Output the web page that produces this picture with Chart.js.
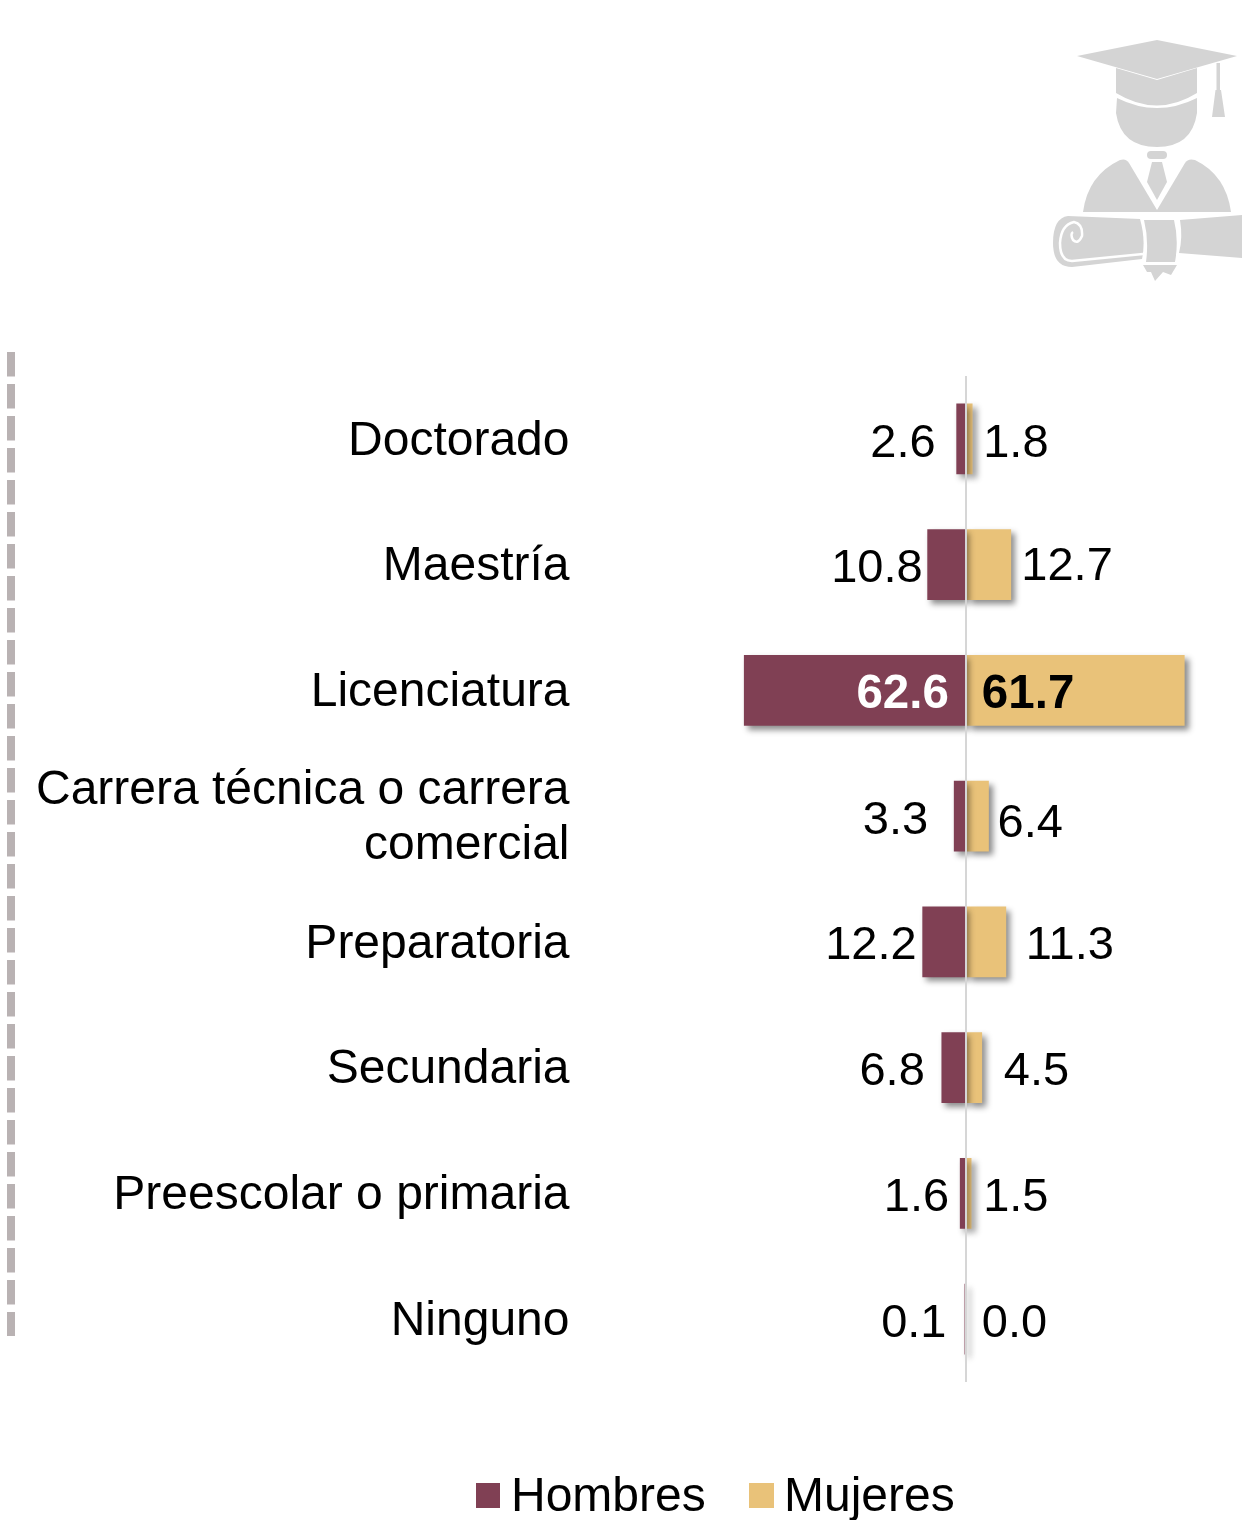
<!DOCTYPE html>
<html>
<head>
<meta charset="utf-8">
<script src="https://cdn.jsdelivr.net/npm/chart.js@4"></script>
<style>
html,body{margin:0;padding:0;background:#fff;width:1242px;height:1520px;overflow:hidden}
#wrap{position:relative;width:1242px;height:1520px}
canvas{position:absolute;left:0;top:0}
svg{position:absolute;left:0;top:0}
</style>
</head>
<body>
<div id="wrap">
<canvas id="c" width="1242" height="1520"></canvas>
<svg width="1242" height="1520" viewBox="0 0 1242 1520">
  <defs><filter id="soft"><feGaussianBlur stdDeviation="0.6"/></filter></defs>
  <line x1="11" y1="352" x2="11" y2="1336" stroke="#b9b2b3" stroke-width="8" stroke-dasharray="24.5 7.5"/>
  <g fill="#d4d4d4" filter="url(#soft)">
    <path d="M1077 56 L1157 40 L1237 56 L1157 79 Z"/>
    <path d="M1116 68 L1157 80 L1197 68 L1197 93 Q1157 118 1116 93 Z"/>
    <path d="M1117 98 Q1157 118 1197 98 L1197 113 Q1192 147 1157 147 Q1121 147 1116 113 Z"/>
    <path d="M1216.5 63 L1220 63 L1220 90 L1221 90 L1225 117 L1212 117 L1215.5 90 L1216.5 90 Z"/>
    <rect x="1147" y="151" width="20" height="8" rx="4"/>
    <path d="M1152 162 L1162 162 L1167 182 L1157 200 L1147 182 Z"/>
    <path d="M1083 212 Q1088 175 1120 160 Q1126 158 1129 163 L1157 210 L1157 212 Z"/>
    <path d="M1231 212 Q1226 175 1195 160 Q1188 158 1185 163 L1157 210 L1157 212 Z"/>
    <path d="M1068 216 L1140 219 Q1146 240 1142 259 L1072 267 Q1053 267 1053 243 Q1053 218 1068 216 Z"/>
    <path d="M1144 220 L1174 220 Q1179 240 1175 262 L1146 262 Q1149 240 1144 220 Z"/>
    <path d="M1180 220 L1242 215 L1242 258 L1179 253 Q1183 238 1180 220 Z"/>
    <path d="M1143 265 L1177 265 L1171 275 L1163 272 L1155 281 L1151 272 L1147 272 Z"/>
  </g>
  <path filter="url(#soft)" d="M1143 254 L1072 261 Q1060 261 1060 243 Q1061 225 1074 222 Q1083 224 1082 236 Q1078 245 1073 240 Q1070 234 1073 232" fill="none" stroke="#fff" stroke-width="2.5"/>
</svg>
</div>
<script>
const categories = [
  "Doctorado", "Maestría", "Licenciatura",
  ["Carrera técnica o carrera", "comercial"],
  "Preparatoria", "Secundaria", "Preescolar o primaria", "Ninguno"
];
const hombres = [2.6, 10.8, 62.6, 3.3, 12.2, 6.8, 1.6, 0.1];
const mujeres = [1.8, 12.7, 61.7, 6.4, 11.3, 4.5, 1.5, 0.0];
const seriesNames = ["Hombres", "Mujeres"];
const seriesColors = ["#804054", "#E9C279"];

// label placement tweaks (px)
const gapHombres = [21, 5, 17, 26, 6, 17, 11, 19];
const gapMujeres = [11, 10.5, 16, 9, 20, 22, 12, 16];
const riseHombres = [5, 4, 5, 4.5, 4, 4, 5, 5];
const riseMujeres = [5, 2, 5, 7.5, 4, 4, 5, 5];
const insideAbove = 50;

const FONT = '"Liberation Sans", Arial, sans-serif';

const shadowPlugin = {
  id: 'barShadow',
  beforeDatasetDraw(chart) {
    const c = chart.ctx;
    c.save();
    c.shadowColor = 'rgba(0,0,0,0.45)';
    c.shadowBlur = 6;
    c.shadowOffsetX = 4;
    c.shadowOffsetY = 4;
  },
  afterDatasetDraw(chart) { chart.ctx.restore(); }
};

const labelPlugin = {
  id: 'valueLabels',
  afterDatasetsDraw(chart) {
    const c = chart.ctx;
    const x = chart.scales.x, y = chart.scales.y;
    c.save();
    c.textBaseline = 'middle';
    categories.forEach((_, i) => {
      const yc = y.getPixelForValue(i);
      const zero = x.getPixelForValue(0);
      const h = hombres[i], m = mujeres[i];
      if (h > insideAbove) {
        c.font = 'bold 47.5px ' + FONT;
        c.fillStyle = '#fff'; c.textAlign = 'right';
        c.fillText(h.toFixed(1), zero - gapHombres[i], yc + riseHombres[i]);
        c.fillStyle = '#000'; c.textAlign = 'left';
        c.fillText(m.toFixed(1), zero + gapMujeres[i], yc + riseMujeres[i]);
      } else {
        c.font = '47px ' + FONT;
        c.fillStyle = '#000'; c.textAlign = 'right';
        c.fillText(h.toFixed(1), x.getPixelForValue(-h) - gapHombres[i], yc + riseHombres[i]);
        c.textAlign = 'left';
        c.fillText(m.toFixed(1), x.getPixelForValue(m) + gapMujeres[i], yc + riseMujeres[i]);
      }
    });
    c.restore();
  }
};

const legendPlugin = {
  id: 'bottomLegend',
  afterDraw(chart) {
    const c = chart.ctx;
    const items = [[476, 511], [749, 784]];
    c.save();
    c.font = '48px ' + FONT;
    c.textBaseline = 'middle';
    c.textAlign = 'left';
    seriesNames.forEach((n, i) => {
      c.fillStyle = seriesColors[i];
      c.fillRect(items[i][0], 1483, i ? 25 : 24, 25);
      c.fillStyle = '#000';
      c.fillText(n, items[i][1], 1498);
    });
    c.restore();
  }
};

new Chart(document.getElementById('c'), {
  type: 'bar',
  data: {
    labels: categories,
    datasets: [
      { label: seriesNames[0], data: hombres.map(v => -v), backgroundColor: seriesColors[0], barThickness: 70, borderWidth: 0 },
      { label: seriesNames[1], data: mujeres, backgroundColor: seriesColors[1], barThickness: 70, borderWidth: 0 }
    ]
  },
  options: {
    indexAxis: 'y',
    responsive: false,
    animation: false,
    devicePixelRatio: 1,
    layout: { padding: { left: 0, right: 0, top: 376, bottom: 138 } },
    plugins: { legend: { display: false }, tooltip: { enabled: false } },
    scales: {
      x: {
        stacked: true,
        min: -108, max: 78,
        afterFit(s) { s.height = 0; },
        ticks: { display: false, stepSize: 6 },
        border: { display: false },
        grid: {
          z: 1,
          drawTicks: false,
          lineWidth: 2,
          color: ctx => (ctx.tick && ctx.tick.value === 0) ? '#d6d6d6' : 'rgba(0,0,0,0)'
        }
      },
      y: {
        stacked: true,
        afterFit(s) { s.width = 583.5; },
        grid: { display: false, drawTicks: false },
        border: { display: false },
        ticks: {
          autoSkip: false,
          padding: 14,
          labelOffset: 2.5,
          color: '#000',
          font: { family: FONT, size: 48, lineHeight: 1.146 }
        }
      }
    }
  },
  plugins: [shadowPlugin, labelPlugin, legendPlugin]
});
</script>
</body>
</html>
